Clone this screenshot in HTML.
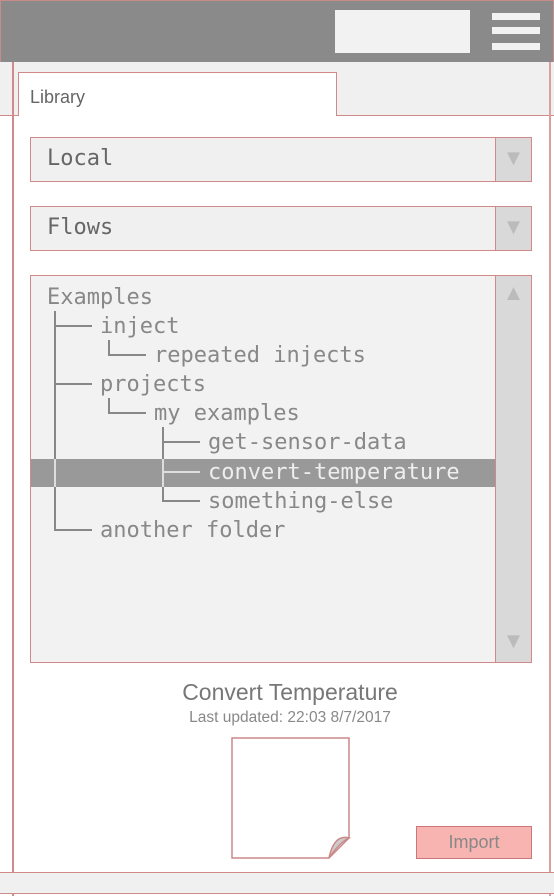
<!DOCTYPE html>
<html><head><style>
body{margin:0;width:554px;height:896px;position:relative;background:#fff;overflow:hidden;font-family:"Liberation Sans",sans-serif}
div{position:absolute;box-sizing:border-box}
.r{border:1.5px solid #d08a8a}
.t{font-family:"DejaVu Sans Mono",monospace;font-size:22px;color:#888;white-space:pre;line-height:29px;height:29px}
.a{color:#bbb;font-size:22px;width:37px;text-align:center}
</style></head><body>
<div style="left:0;top:0;width:554px;height:63px;background:#8a8a8a;border:1.5px solid #c98a8a"></div>
<div style="left:335px;top:10px;width:135px;height:43px;background:#f2f2f2"></div>
<div style="left:492px;top:13px;width:48px;height:7px;background:#f2f2f2"></div>
<div style="left:492px;top:27px;width:48px;height:7px;background:#f2f2f2"></div>
<div style="left:492px;top:43px;width:48px;height:7px;background:#f2f2f2"></div>
<div style="left:0;top:62px;width:554px;height:54px;background:#f0f0f0;border-bottom:1.5px solid #d08a8a"></div>
<div class="r" style="left:18px;top:72px;width:319px;height:44px;background:#fff;border-bottom:none"></div>
<div style="left:30px;top:87px;font-size:18px;color:#666">Library</div>
<div style="left:12px;top:62px;width:2px;height:834px;background:#d08a8a"></div>
<div style="left:549px;top:62px;width:2px;height:834px;background:#d8a0a0"></div>
<div class="r" style="left:30px;top:137px;width:502px;height:45px;background:#f0f0f0"></div>
<div class="r" style="left:495px;top:137px;width:37px;height:45px;background:#d9d9d9"></div>
<div class="t" style="left:47px;top:144px;color:#666">Local</div>
<div class="a" style="left:495px;top:145px">▼</div>
<div class="r" style="left:30px;top:206px;width:502px;height:45px;background:#f0f0f0"></div>
<div class="r" style="left:495px;top:206px;width:37px;height:45px;background:#d9d9d9"></div>
<div class="t" style="left:47px;top:213px;color:#666">Flows</div>
<div class="a" style="left:495px;top:214px">▼</div>
<div class="r" style="left:30px;top:275px;width:502px;height:388px;background:#f2f2f2"></div>
<div class="r" style="left:495px;top:275px;width:37px;height:388px;background:#d9d9d9"></div>
<div class="a" style="left:495px;top:280px">▲</div>
<div class="a" style="left:495px;top:628px">▼</div>
<div style="left:31px;top:459px;width:464px;height:28px;background:#999"></div>
<svg style="position:absolute;left:0;top:0" width="554" height="896">
<g stroke="#888" stroke-width="2" fill="none">
<path d="M55 311V530H92M55 326H92M55 384H92"/>
<path d="M109 340V355H146M109 398V413H146"/>
<path d="M163 427V501H200M163 442H200"/>
</g>
<path d="M163 459V487M163 472H200" stroke="#ddd" stroke-width="2"/>
<path d="M55 459V487" stroke="#ddd" stroke-width="2"/>
</svg>
<div class="t" style="left:47px;top:283px">Examples</div>
<div class="t" style="left:100px;top:312px">inject</div>
<div class="t" style="left:154px;top:341px">repeated injects</div>
<div class="t" style="left:100px;top:370px">projects</div>
<div class="t" style="left:154px;top:399px">my examples</div>
<div class="t" style="left:208px;top:428px">get-sensor-data</div>
<div class="t" style="left:208px;top:458px;color:#eee">convert-temperature</div>
<div class="t" style="left:208px;top:487px">something-else</div>
<div class="t" style="left:100px;top:516px">another folder</div>
<div style="left:0;top:679px;width:580px;text-align:center;font-size:23px;color:#777">Convert Temperature</div>
<div style="left:0;top:709px;width:580px;text-align:center;font-size:15.5px;color:#888">Last updated: 22:03 8/7/2017</div>
<svg style="position:absolute;left:230px;top:736px" width="124" height="126">
<path d="M2 2H119V102L99 122H2Z" fill="#fff" stroke="#c88" stroke-width="1.5"/>
<path d="M119 102Q104 98 99 122Q110 106 119 102Z" fill="#ccc" stroke="#c88" stroke-width="1.5"/>
</svg>
<div style="left:416px;top:826px;width:116px;height:33px;background:#f8b4b0;border:1.5px solid #c77;color:#888;font-size:18px;text-align:center;line-height:30px">Import</div>
<div style="left:0;top:872px;width:554px;height:22px;background:#f0f0f0;border-top:1.5px solid #d08a8a;border-bottom:1.5px solid #d08a8a"></div>
</body></html>
